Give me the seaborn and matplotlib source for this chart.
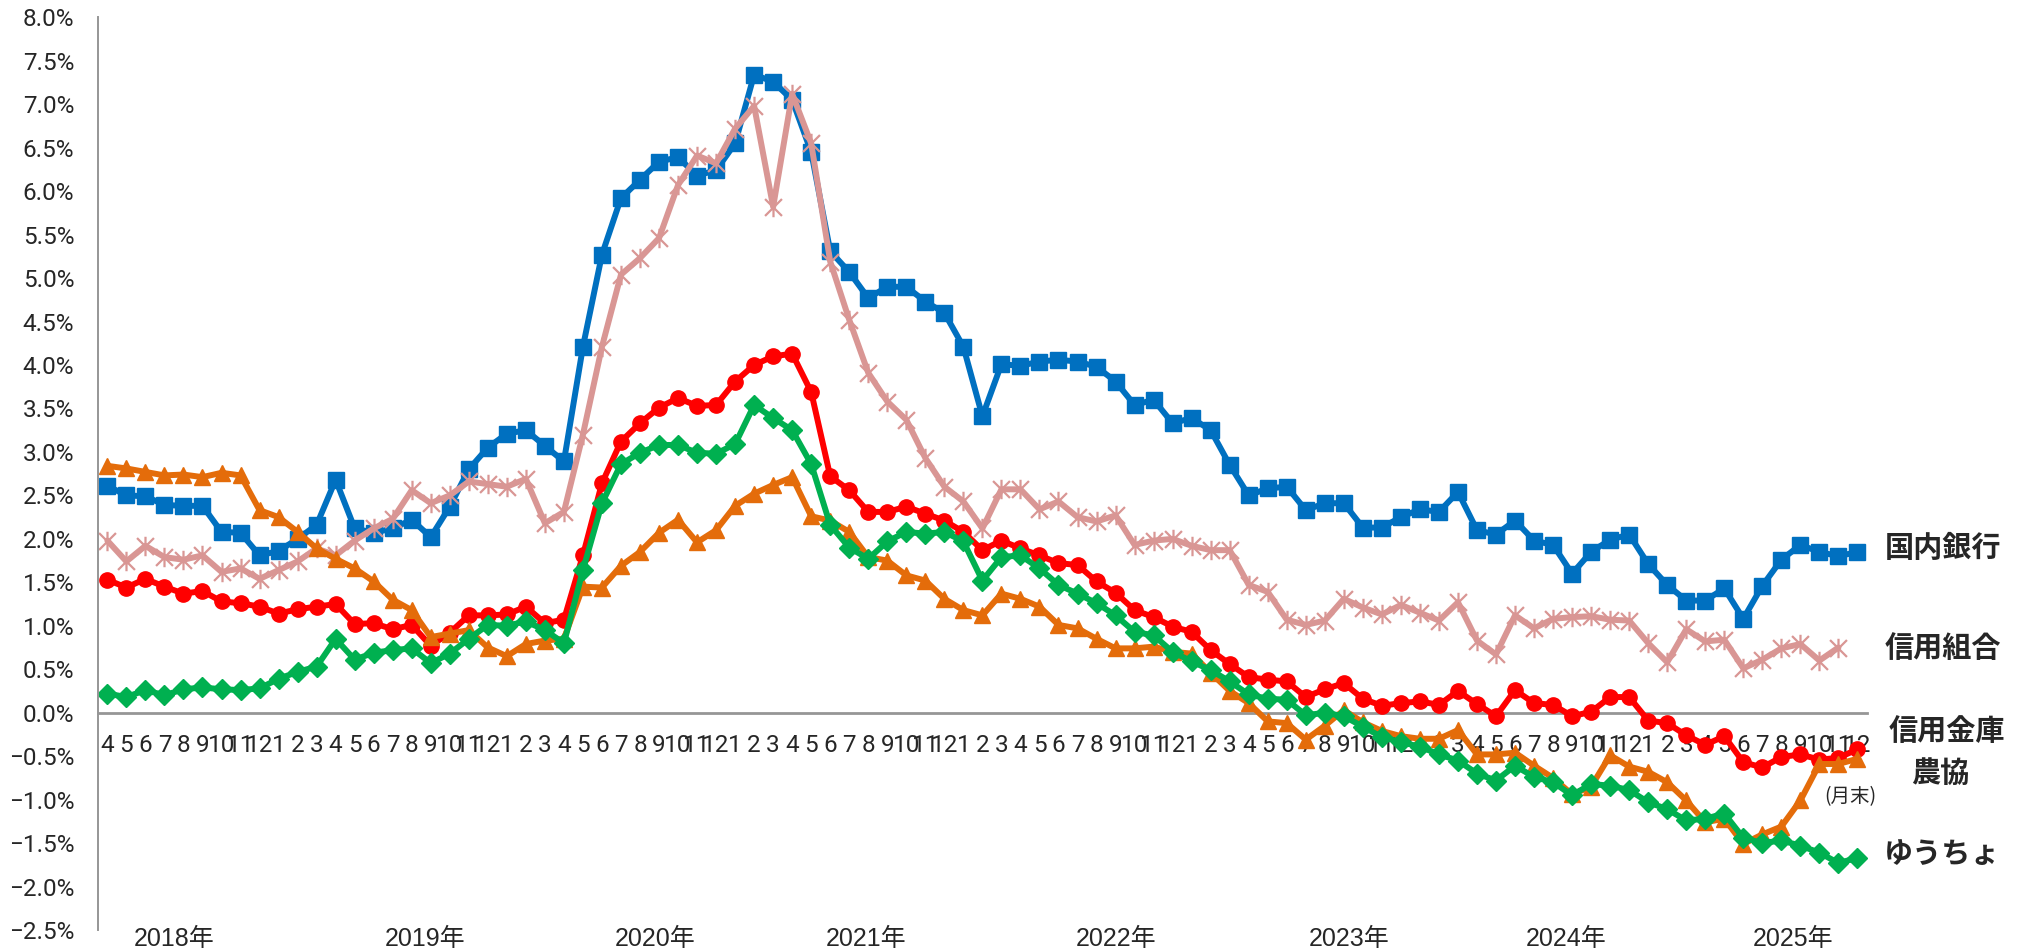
import numpy as np
import pandas as pd
import seaborn as sns
import matplotlib.pyplot as plt
from matplotlib.path import Path
from matplotlib.ticker import FuncFormatter

# monthly categories, 2018/4 - 2025/12
months = pd.date_range('2018-04-01', periods=93, freq='MS')
month_labels = [str(m.month) for m in months]

year_labels = ['2018年', '2019年', '2020年', '2021年', '2022年', '2023年', '2024年', '2025年']
year_label_x = [3.5, 16.7, 28.8, 39.9, 53.0, 65.3, 76.7, 88.6]

# 前年比 (%)
domestic_banks = [
    2.61, 2.50, 2.49, 2.39, 2.38, 2.38, 2.08, 2.07, 1.81, 1.86, 2.00, 2.16,
    2.68, 2.12, 2.07, 2.12, 2.22, 2.02, 2.37, 2.80, 3.05, 3.21, 3.25, 3.07,
    2.89, 4.21, 5.27, 5.92, 6.13, 6.34, 6.39, 6.18, 6.24, 6.55, 7.34, 7.26,
    7.05, 6.45, 5.31, 5.07, 4.77, 4.90, 4.90, 4.73, 4.60, 4.21, 3.41, 4.01,
    3.99, 4.04, 4.06, 4.04, 3.98, 3.81, 3.54, 3.60, 3.33, 3.39, 3.25, 2.85,
    2.50, 2.58, 2.60, 2.33, 2.41, 2.41, 2.13, 2.13, 2.25, 2.34, 2.31, 2.54,
    2.10, 2.05, 2.21, 1.98, 1.93, 1.60, 1.85, 1.99, 2.05, 1.71, 1.47, 1.29,
    1.29, 1.43, 1.08, 1.46, 1.76, 1.93, 1.85, 1.80, 1.85,
]
credit_coops = [
    1.98, 1.74, 1.92, 1.79, 1.76, 1.81, 1.62, 1.66, 1.54, 1.64, 1.74, 1.89,
    1.81, 1.98, 2.12, 2.23, 2.56, 2.41, 2.50, 2.66, 2.63, 2.60, 2.69, 2.18,
    2.31, 3.20, 4.21, 5.04, 5.23, 5.46, 6.07, 6.41, 6.32, 6.72, 6.98, 5.82,
    7.12, 6.55, 5.19, 4.52, 3.91, 3.58, 3.37, 2.93, 2.60, 2.43, 2.12, 2.57,
    2.57, 2.34, 2.43, 2.25, 2.20, 2.27, 1.93, 1.98, 2.00, 1.92, 1.87, 1.87,
    1.47, 1.39, 1.07, 1.01, 1.06, 1.31, 1.21, 1.13, 1.24, 1.15, 1.06, 1.27,
    0.83, 0.67, 1.12, 0.97, 1.08, 1.10, 1.11, 1.07, 1.06, 0.80, 0.58, 0.96,
    0.82, 0.84, 0.51, 0.61, 0.74, 0.79, 0.60, 0.75, np.nan,
]
shinkin = [
    1.53, 1.44, 1.54, 1.45, 1.37, 1.40, 1.28, 1.26, 1.22, 1.14, 1.19, 1.22,
    1.25, 1.02, 1.03, 0.96, 1.01, 0.77, 0.92, 1.12, 1.12, 1.13, 1.22, 1.03,
    1.07, 1.81, 2.64, 3.12, 3.33, 3.51, 3.62, 3.53, 3.54, 3.81, 4.00, 4.10,
    4.13, 3.69, 2.72, 2.56, 2.31, 2.31, 2.37, 2.29, 2.21, 2.08, 1.87, 1.98,
    1.89, 1.81, 1.72, 1.70, 1.51, 1.38, 1.18, 1.10, 0.99, 0.93, 0.72, 0.56,
    0.41, 0.38, 0.36, 0.18, 0.27, 0.34, 0.16, 0.08, 0.11, 0.13, 0.09, 0.25,
    0.10, -0.04, 0.26, 0.11, 0.09, -0.04, 0.01, 0.18, 0.18, -0.09, -0.12, -0.26,
    -0.37, -0.27, -0.57, -0.63, -0.51, -0.48, -0.54, -0.52, -0.42,
]
ja_bank = [
    2.84, 2.81, 2.77, 2.73, 2.74, 2.71, 2.76, 2.73, 2.33, 2.25, 2.08, 1.89,
    1.77, 1.66, 1.51, 1.30, 1.18, 0.87, 0.91, 0.95, 0.75, 0.65, 0.79, 0.83,
    0.85, 1.45, 1.44, 1.69, 1.85, 2.07, 2.22, 1.96, 2.10, 2.38, 2.52, 2.62,
    2.71, 2.26, 2.21, 2.08, 1.79, 1.75, 1.58, 1.52, 1.31, 1.18, 1.12, 1.37,
    1.31, 1.22, 1.01, 0.97, 0.85, 0.74, 0.74, 0.76, 0.70, 0.68, 0.46, 0.25,
    0.11, -0.10, -0.12, -0.31, -0.15, 0.03, -0.11, -0.21, -0.27, -0.30, -0.30, -0.20,
    -0.48, -0.48, -0.46, -0.61, -0.75, -0.94, -0.85, -0.49, -0.62, -0.68, -0.80, -1.01,
    -1.26, -1.22, -1.51, -1.40, -1.31, -1.01, -0.59, -0.59, -0.53,
]
yucho = [
    0.22, 0.18, 0.26, 0.20, 0.27, 0.29, 0.27, 0.26, 0.28, 0.39, 0.47, 0.53,
    0.85, 0.61, 0.69, 0.72, 0.74, 0.57, 0.68, 0.85, 1.01, 1.00, 1.05, 0.95,
    0.80, 1.64, 2.41, 2.86, 2.99, 3.08, 3.08, 2.99, 2.98, 3.09, 3.54, 3.39,
    3.25, 2.86, 2.16, 1.90, 1.77, 1.97, 2.08, 2.06, 2.08, 1.97, 1.52, 1.79,
    1.81, 1.66, 1.47, 1.37, 1.26, 1.12, 0.93, 0.89, 0.70, 0.59, 0.49, 0.36,
    0.21, 0.16, 0.15, -0.03, 0.00, -0.04, -0.16, -0.28, -0.34, -0.39, -0.48, -0.55,
    -0.70, -0.78, -0.61, -0.74, -0.80, -0.95, -0.82, -0.84, -0.89, -1.03, -1.11, -1.24,
    -1.22, -1.16, -1.44, -1.50, -1.47, -1.53, -1.61, -1.73, -1.67,
]

sns.set_style('white')
plt.rcParams['font.family'] = ['Roboto', 'Noto Sans CJK JP', 'DejaVu Sans']
plt.rcParams['axes.unicode_minus'] = True

# Excel style star marker: an X with a vertical bar
star = Path([(-1, -1), (1, 1), (-1, 1), (1, -1), (0, -1.15), (0, 1.15)],
            [Path.MOVETO, Path.LINETO, Path.MOVETO, Path.LINETO, Path.MOVETO, Path.LINETO])

x = np.arange(len(months))
series = [
    # values, color, marker, markersize, edge width
    (domestic_banks, '#0070C0', 's', 11.5, 1),
    (credit_coops, '#D99694', star, 14, 1.6),
    (shinkin, '#FF0000', 'o', 11, 1),
    (ja_bank, '#E46C0A', '^', 12, 1),
    (yucho, '#00B050', 'D', 9.8, 1),
]

fig = plt.figure(figsize=(20.26, 9.52), dpi=100)
ax = fig.add_axes([0.0483, 0.0231, 0.8732, 0.9587])

for vals, color, marker, ms, mew in series:
    face = 'none' if marker is star else color
    sns.lineplot(x=x, y=vals, ax=ax, color=color, linewidth=4.3,
                 marker=marker, markersize=ms, markerfacecolor=face,
                 markeredgecolor=color, markeredgewidth=mew)

ax.set_xlim(-0.5, 92.5)
ax.set_ylim(-2.5, 8.0)
ax.set_xlabel('')
ax.set_ylabel('')

ax.set_yticks(np.arange(-2.5, 8.01, 0.5))
ax.yaxis.set_major_formatter(FuncFormatter(lambda v, p: f'{v:.1f}%'.replace('-', '\u2212')))
ax.set_xticks(x)
ax.set_xticklabels(month_labels)

for side in ['top', 'right']:
    ax.spines[side].set_visible(False)
ax.spines['bottom'].set_position(('data', 0))
for side in ['left', 'bottom']:
    ax.spines[side].set_color('#969696')
ax.spines['left'].set_linewidth(1.4)
ax.spines['bottom'].set_linewidth(2.0)
ax.spines['bottom'].set_zorder(1)

ax.tick_params(axis='y', direction='out', length=6, width=1.3, color='#969696',
               labelsize=17.5, pad=11)
ax.tick_params(axis='x', direction='out', length=4.5, width=1.3, color='#969696',
               labelsize=17.5, pad=11)
ax.grid(False)

for label, xp in zip(year_labels, year_label_x):
    ax.text(xp, -2.60, label, ha='center', va='center', fontsize=18,
            family=['Liberation Sans', 'Noto Sans CJK JP', 'DejaVu Sans'], clip_on=False)

# series names at the right edge
cjk_bold = dict(fontsize=21, fontweight='bold', family=['Noto Sans CJK JP', 'DejaVu Sans'],
                ha='center', va='center', clip_on=False)
ax.text(96.5, 1.89, '国内銀行', **cjk_bold)
ax.text(96.5, 0.75, '信用組合', **cjk_bold)
ax.text(96.7, -0.21, '信用金庫', **cjk_bold)
ax.text(96.35, -0.69, '農協', **cjk_bold)
ax.text(96.45, -1.64, 'ゆうちょ', **cjk_bold)
ax.text(91.6, -0.97, '(月末)', fontsize=14, ha='center', va='center',
        family=['Noto Sans CJK JP', 'DejaVu Sans'], clip_on=False)

fig.savefig('out.png', dpi=100)
